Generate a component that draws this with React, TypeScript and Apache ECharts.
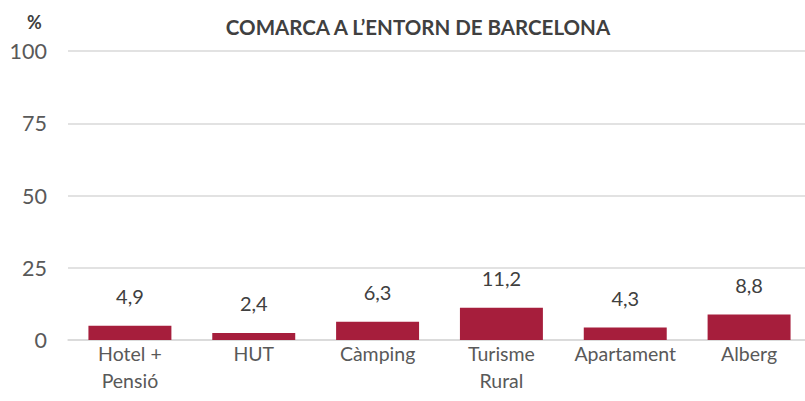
import React, { useEffect, useRef } from "react";
import * as echarts from "echarts";

const categories = ["Hotel +\nPensió", "HUT", "Càmping", "Turisme\nRural", "Apartament", "Alberg"];
const values = [4.9, 2.4, 6.3, 11.2, 4.3, 8.8];
const yTicks = [0, 25, 50, 75, 100];

const FONT = "Lato, 'Open Sans', sans-serif";

export default function App() {
  const ref = useRef<HTMLDivElement>(null);
  useEffect(() => {
    if (!ref.current) return;
    const chart = echarts.init(ref.current, null, { renderer: "svg" });
    chart.setOption({
      animation: false,
      backgroundColor: "#ffffff",
      title: [
        {
          text: "COMARCA A L\u2019ENTORN DE BARCELONA",
          left: 413,
          top: 11,
          textAlign: "center",
          textStyle: { fontFamily: FONT, fontSize: 20.5, fontWeight: "bold", color: "#404040" },
        },
        {
          text: "%",
          left: 22,
          top: 8,
          textStyle: { fontFamily: FONT, fontSize: 18, fontWeight: "bold", color: "#404040" },
        },
      ],
      grid: { left: 68, right: 0, top: 51, bottom: 61, containLabel: false },
      xAxis: {
        type: "category",
        data: categories,
        axisLine: { show: true, lineStyle: { color: "#d9d9d9", width: 1.5 } },
        axisTick: { show: false },
        axisLabel: {
          fontFamily: FONT,
          fontSize: 19.5,
          color: "#595959",
          lineHeight: 27,
          margin: 0,
          interval: 0,
        },
      },
      yAxis: {
        type: "value",
        min: yTicks[0],
        max: yTicks[yTicks.length - 1],
        interval: 25,
        axisLine: { show: false },
        axisTick: { show: false },
        splitLine: { lineStyle: { color: "#d9d9d9", width: 1.5 } },
        axisLabel: { fontFamily: FONT, fontSize: 21.5, color: "#595959", margin: 21 },
      },
      series: [
        {
          type: "bar",
          data: values,
          barCategoryGap: "33%",
          itemStyle: { color: "#A61E3C" },
          label: {
            show: true,
            position: "top",
            distance: 20,
            fontFamily: FONT,
            fontSize: 20,
            color: "#404040",
            formatter: (p: any) => String(p.value).replace(".", ","),
          },
        },
      ],
    });
    return () => chart.dispose();
  }, []);
  return (
    <div
      style={{ position: "fixed", left: 0, top: 0, width: 805, height: 401, overflow: "hidden", background: "#fff" }}
    >
      <div ref={ref} style={{ width: 811, height: 401 }} />
    </div>
  );
}
